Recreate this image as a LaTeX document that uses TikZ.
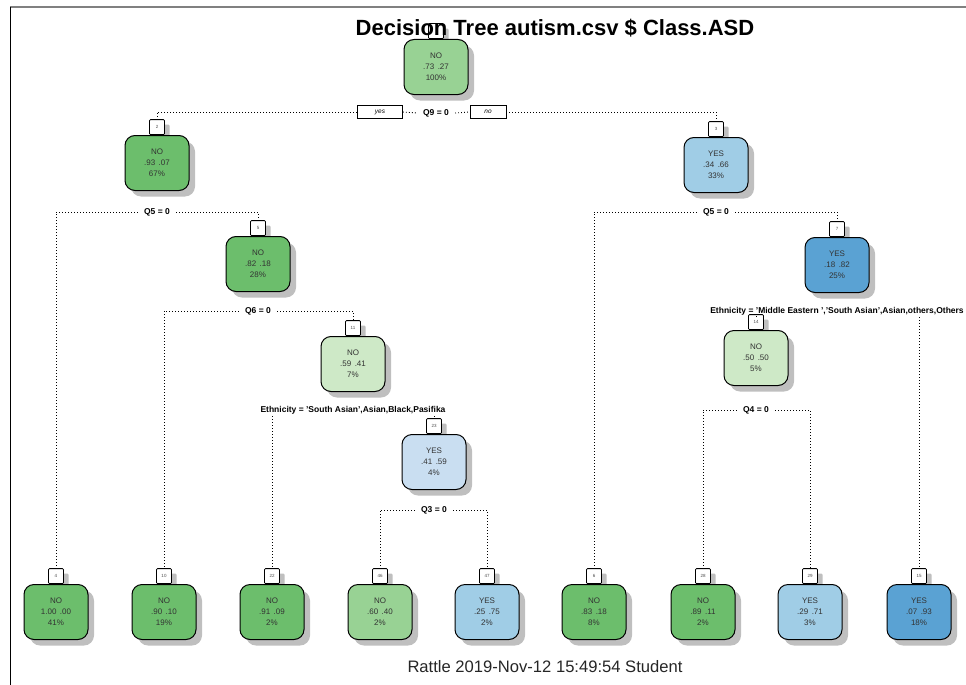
\documentclass[tikz,border=0pt]{standalone}
\usepackage{fontspec}
\setmainfont{Liberation Sans}
\usetikzlibrary{positioning,shadows,backgrounds}

\definecolor{grnA}{RGB}{108,190,108}
\definecolor{grnB}{RGB}{152,210,148}
\definecolor{grnC}{RGB}{206,233,199}
\definecolor{bluA}{RGB}{201,222,241}
\definecolor{bluB}{RGB}{160,205,230}
\definecolor{bluC}{RGB}{90,162,211}

\tikzset{
  box/.style={draw, line width=1pt, rounded corners=10pt, minimum width=64pt,
    minimum height=55pt, align=center, inner sep=0pt,
    font=\fontsize{8}{11}\selectfont, text=black!80,
    drop shadow={shadow xshift=6pt,shadow yshift=-6pt,fill=black!25,opacity=1}},
  tab/.style={draw, fill=white, line width=0.8pt, rounded corners=1pt,
    minimum width=15pt, minimum height=15pt, inner sep=1pt,
    font=\fontsize{4.5}{5}\selectfont, text=black!70,
    drop shadow={shadow xshift=5pt,shadow yshift=-5pt,fill=black!25,opacity=1}},
  cut/.style={font=\bfseries\fontsize{8.5}{9}\selectfont, inner xsep=6pt, inner ysep=2pt},
  yn/.style={draw, fill=white, line width=0.8pt, font=\itshape\fontsize{6.5}{7}\selectfont,
    minimum height=13pt, inner sep=1pt},
  link/.style={line width=0.9pt, dash pattern=on 0.9pt off 2.1pt}
}
\newcommand{\pr}[2]{#1\hspace{3.5pt}#2}

\begin{document}
\begin{tikzpicture}[x=1pt,y=-1pt]
\useasboundingbox (0,0) rectangle (966,685);
% frame
\draw[gray, line width=2pt] (10,7.5) -- (966,7.5);
\draw[black, line width=1.5pt] (10.5,7) -- (10.5,685);

% inner nodes
\node[box, fill=grnB] (n1) at (436,67) {NO\\\pr{.73}{.27}\\100\%};
\node[box, fill=grnA] (n2) at (157,163) {NO\\\pr{.93}{.07}\\67\%};
\node[box, fill=bluB] (n3) at (716,165) {YES\\\pr{.34}{.66}\\33\%};
\node[box, fill=grnA] (n5) at (258,264) {NO\\\pr{.82}{.18}\\28\%};
\node[box, fill=bluC] (n7) at (837,265) {YES\\\pr{.18}{.82}\\25\%};
\node[box, fill=grnC] (n11) at (353,364) {NO\\\pr{.59}{.41}\\7\%};
\node[box, fill=grnC] (n14) at (756,358) {NO\\\pr{.50}{.50}\\5\%};
\node[box, fill=bluA] (n23) at (434,462) {YES\\\pr{.41}{.59}\\4\%};

% leaves
\node[box, fill=grnA] (n4) at (56,612) {NO\\\pr{1.00}{.00}\\41\%};
\node[box, fill=grnA] (n10) at (164,612) {NO\\\pr{.90}{.10}\\19\%};
\node[box, fill=grnA] (n22) at (272,612) {NO\\\pr{.91}{.09}\\2\%};
\node[box, fill=grnB] (n46) at (380,612) {NO\\\pr{.60}{.40}\\2\%};
\node[box, fill=bluB] (n47) at (487,612) {YES\\\pr{.25}{.75}\\2\%};
\node[box, fill=grnA] (n6) at (594,612) {NO\\\pr{.83}{.18}\\8\%};
\node[box, fill=grnA] (n28) at (703,612) {NO\\\pr{.89}{.11}\\2\%};
\node[box, fill=bluB] (n29) at (810,612) {YES\\\pr{.29}{.71}\\3\%};
\node[box, fill=bluC] (n15) at (919,612) {YES\\\pr{.07}{.93}\\18\%};

% node numbers (the root one sits under the title)
\begin{scope}[on background layer]
  \node[tab, above=0pt of n1] (t1) {};
  \foreach \i in {2,3,4,5,6,7,10,11,14,15,22,23,28,29,46,47}
    \node[tab, above=0pt of n\i] (t\i) {\i};
\end{scope}

% split labels
\node[cut] (s1) at (436,113) {Q9 = 0};
\node[yn, minimum width=45pt] (yes) at (380,112) {yes};
\node[yn, minimum width=36pt] (no) at (488,112) {no};
\node[cut] (s2) at (157,212) {Q5 = 0};
\node[cut] (s3) at (716,212) {Q5 = 0};
\node[cut] (s5) at (258,311) {Q6 = 0};
\node[cut] (s7) at (837,311) {Ethnicity = 'Middle Eastern ','South Asian',Asian,others,Others};
\node[cut] (s11) at (353,410) {Ethnicity = 'South Asian',Asian,Black,Pasifika};
\node[cut] (s14) at (756,410) {Q4 = 0};
\node[cut] (s23) at (434,510) {Q3 = 0};

% branches
\draw[link] (yes.west) -| (t2.north);
\draw[link] (yes.east) -- (s1.west);
\draw[link] (s1.east) -- (no.west);
\draw[link] (no.east) -| (t3.north);
\draw[link] (s2.west) -| (t4.north);
\draw[link] (s2.east) -| (t5.north);
\draw[link] (s3.west) -| (t6.north);
\draw[link] (s3.east) -| (t7.north);
\draw[link] (s5.west) -| (t10.north);
\draw[link] (s5.east) -| (t11.north);
\draw[link] (s11.south -| t22.north) -- (t22.north);
\draw[link] (s11.south -| t23.north) -- (t23.north);
\draw[link] (s23.west) -| (t46.north);
\draw[link] (s23.east) -| (t47.north);
\draw[link] (s7.south -| t14.north) -- (t14.north);
\draw[link] (s7.south -| t15.north) -- (t15.north);
\draw[link] (s14.west) -| (t28.north);
\draw[link] (s14.east) -| (t29.north);

% title and footer
\node[font=\bfseries\fontsize{22}{26}\selectfont] (title) at (555,28) {Decision Tree autism.csv \$ Class.ASD};
\node[font=\fontsize{16.6}{20}\selectfont, text=black!85] (foot) at (545,667) {Rattle 2019-Nov-12 15:49:54 Student};
\end{tikzpicture}
\end{document}
